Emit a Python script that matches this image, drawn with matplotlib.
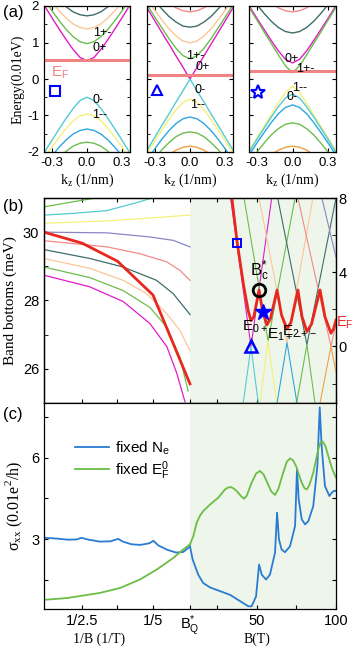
import numpy as np
import matplotlib
matplotlib.use("Agg")
import matplotlib.pyplot as plt
from matplotlib.ticker import MultipleLocator, FixedLocator, FixedFormatter, NullFormatter

plt.rcParams.update({
    "font.family": ["Liberation Sans", "DejaVu Sans"],
    "mathtext.fontset": "custom",
    "mathtext.rm": "Liberation Sans",
    "mathtext.it": "Liberation Sans:italic",
    "mathtext.sf": "Liberation Serif",
    "mathtext.default": "rm",
    "axes.unicode_minus": False,
    "xtick.direction": "in",
    "ytick.direction": "in",
    "axes.linewidth": 0.9,
})

MAG, GRN, PEA, SLT = "#e01cc4", "#6cbd4e", "#fcc698", "#3f6d6a"
SAL, PUR, YEL, CYN = "#f28a8a", "#8a86c6", "#f6f07a", "#55cbd3"
BLU, ORG, RED, EFC = "#2ca6df", "#f2a042", "#e8281e", "#f08484"
SHADE = "#eef6eb"

# ---------------- (a) dispersions, E(k) for k >= 0 (mirrored) ----------------
K_HALF = [0.0, 0.06, 0.12, 0.18, 0.24, 0.30, 0.38]

A1_BANDS = [
    [0.50, 0.59, 0.81, 1.08, 1.37, 1.67, 2.08],
    [0.97, 1.02, 1.16, 1.36, 1.60, 1.86, 2.24],
    [1.37, 1.41, 1.51, 1.67, 1.87, 2.10, 2.44],
    [1.73, 1.76, 1.84, 1.98, 2.15, 2.35, 2.65],
    [-0.50, -0.59, -0.81, -1.08, -1.37, -1.67, -2.08],
    [-0.96, -1.01, -1.15, -1.35, -1.60, -1.86, -2.24],
    [-1.37, -1.41, -1.51, -1.67, -1.87, -2.10, -2.44],
    [-1.73, -1.76, -1.84, -1.98, -2.15, -2.35, -2.65],
]
A1_COLORS = [MAG, GRN, PEA, SLT, CYN, YEL, BLU, GRN]
A1_EF = 0.52

A2_BANDS = [
    [1.84, 1.87, 1.95, 2.07, 2.24, 2.43, 2.73],
    [1.42, 1.45, 1.56, 1.71, 1.91, 2.13, 2.46],
    [0.99, 1.04, 1.18, 1.37, 1.61, 1.87, 2.24],
    [0.55, 0.64, 0.84, 1.10, 1.39, 1.68, 2.09],
    [0.00, 0.32, 0.63, 0.95, 1.26, 1.58, 2.00],
    [0.00, -0.32, -0.63, -0.95, -1.26, -1.58, -2.00],
    [-0.55, -0.64, -0.84, -1.10, -1.39, -1.68, -2.09],
    [-1.04, -1.09, -1.22, -1.41, -1.64, -1.90, -2.27],
    [-1.45, -1.48, -1.58, -1.74, -1.93, -2.15, -2.48],
    [-1.84, -1.87, -1.95, -2.07, -2.24, -2.43, -2.73],
]
A2_COLORS = [SAL, SLT, PEA, GRN, MAG, CYN, YEL, BLU, GRN, ORG]
A2_EF = 0.12

A3_BANDS = [
    [1.84, 1.87, 1.95, 2.07, 2.24, 2.43, 2.73],
    [1.26, 1.30, 1.41, 1.58, 1.79, 2.03, 2.38],
    [0.44, 0.54, 0.77, 1.05, 1.35, 1.65, 2.06],
    [0.17, 0.36, 0.66, 0.97, 1.28, 1.60, 2.02],
    [-0.19, -0.37, -0.66, -0.97, -1.29, -1.60, -2.02],
    [-0.41, -0.52, -0.76, -1.04, -1.34, -1.64, -2.06],
    [-0.71, -0.78, -0.95, -1.19, -1.46, -1.74, -2.14],
    [-1.20, -1.24, -1.36, -1.53, -1.75, -1.99, -2.34],
    [-1.84, -1.87, -1.95, -2.07, -2.24, -2.43, -2.73],
]
A3_COLORS = [SAL, SLT, MAG, GRN, YEL, CYN, BLU, GRN, ORG]
A3_EF = 0.22

# labels in (a): (k, E, text)
A1_LABELS = [(0.05, 1.25, "1+-"), (0.05, 0.86, "0+"), (0.05, -0.58, "0-"), (0.04, -0.99, "1--")]
A2_LABELS = [(-0.03, 0.62, "1+-"), (0.05, 0.33, "0+"), (0.04, -0.30, "0-"), (0.00, -0.72, "1--")]
A3_LABELS = [(-0.07, 0.55, "0+"), (0.03, 0.28, "1+-"), (0.00, -0.25, "1--"), (-0.05, -0.49, "0-")]
A_MARKS = [((-0.274, -0.32), "s"), ((-0.28, -0.30), "^"), ((-0.29, -0.35), "*")]

# ---------------- (b) band bottoms ----------------
# left part: x is 1/B (1/T), y in meV
BB_INV = [
    [0.507, 0.47],
    [0.507, 0.425, 0.326],
    [0.507, 0.425, 0.330, 0.237, 0.185],
    [0.507, 0.330, 0.200, 0.0958],
    [0.507, 0.330, 0.209, 0.143, 0.0958],
    [0.507, 0.330, 0.237, 0.161, 0.124, 0.0958],
    [0.507, 0.378, 0.284, 0.190, 0.143, 0.0958],
    [0.507, 0.378, 0.284, 0.218, 0.161, 0.124, 0.0958],
    [0.507, 0.378, 0.284, 0.209, 0.161, 0.124, 0.101],
    [0.507, 0.378, 0.284, 0.209, 0.161, 0.133, 0.110],
]
BB_MEV = [
    [30.97, 31.05],
    [30.74, 30.89, 31.06],
    [30.50, 30.55, 30.63, 30.89, 31.06],
    [30.26, 30.33, 30.42, 30.50],
    [30.00, 29.98, 29.86, 29.76, 29.57],
    [29.75, 29.57, 29.37, 29.13, 28.88, 28.59],
    [29.49, 29.23, 28.98, 28.59, 28.20, 27.59],
    [29.23, 28.94, 28.59, 28.20, 27.61, 27.12, 26.53],
    [28.98, 28.67, 28.29, 27.80, 27.22, 26.33, 25.35],
    [28.74, 28.40, 27.97, 27.33, 26.65, 25.87, 25.04],
]
BB_COLORS = [ORG, GRN, CYN, YEL, PUR, SAL, SLT, PEA, GRN, MAG]
EF_INV = [0.507, 0.40, 0.30, 0.20, 0.0958]
EF_MEV = [30.00, 29.68, 29.15, 28.16, 25.56]

# right part: x is B (T), y on right axis
FAN_B = [
    [33.3, 46.2, 59.3], [41.3, 46.2, 50.8],
    [41.8, 57.0, 74.1], [51.9, 57.0, 62.5],
    [51.3, 69.0, 85.4], [62.7, 69.0, 75.3],
    [63.1, 81.6, 100.0], [75.1, 81.6, 86.7],
    [75.9, 96.8, 100.0], [89.9, 96.8, 100.0],
    [91.1, 100.0],
]
FAN_E = [
    [8.0, 0.0, 8.0], [-3.05, 0.0, -3.05],
    [8.0, 0.3, 8.0], [-3.05, 0.3, -3.05],
    [8.0, 0.2, 8.0], [-3.05, 0.2, -3.05],
    [8.0, 0.1, 8.0], [-3.05, 0.1, -3.05],
    [8.0, 0.0, 1.2], [-3.05, 0.0, -1.4],
    [8.0, 4.8],
]
FAN_COLORS = [MAG, CYN, GRN, YEL, PEA, BLU, SLT, GRN, SAL, ORG, PUR]

EF_B = [33.4, 37.5, 41.5, 44.5, 46.2, 48.0, 51.3, 53.5, 56.3, 58.5, 62.7, 65.5, 69.0,
        71.5, 75.9, 78.5, 81.6, 84.5, 89.9, 93.0, 96.8, 98.5, 100.0]
EF_E = [8.5, 5.58, 3.3, 1.9, 1.39, 1.6, 3.04, 1.9, 1.16, 1.5, 3.04, 1.7, 0.94,
        1.3, 3.04, 1.6, 0.80, 1.2, 3.04, 1.6, 0.71, 0.95, 1.42]

B_SQUARE, B_CIRCLE, B_STAR, B_TRI = (37.5, 5.58), (51.3, 3.04), (53.6, 1.87), (46.2, 0.0)

# ---------------- (c) conductivity ----------------
NE_INV = [0.505, 0.47, 0.44, 0.415, 0.401, 0.385, 0.35, 0.32, 0.298, 0.285, 0.26, 0.235,
          0.21, 0.199, 0.185, 0.16, 0.135, 0.115, 0.0958]
NE_INV_S = [3.06, 3.03, 2.99, 3.00, 3.06, 3.00, 2.92, 2.93, 3.02, 2.92, 2.82, 2.80,
            2.86, 2.95, 2.78, 2.62, 2.52, 2.54, 2.74]
NE_B = [7.6, 9.3, 12.8, 16.0, 20.3, 32.9, 44.5, 46.6, 49.4, 51.3, 53.0, 55.7, 58.2, 61.4,
        62.7, 63.9, 65.6, 67.7, 70.9, 74.1, 75.3, 76.4, 78.3, 80.4, 82.5, 85.6, 88.2, 89.7,
        90.9, 93.0, 95.8, 97.3, 98.7, 100.0]
NE_B_S = [2.74, 2.26, 1.71, 1.40, 1.24, 0.97, 0.55, 0.55, 0.91, 2.08, 1.71, 1.53, 1.71, 2.51,
          3.98, 3.00, 2.63, 2.53, 2.75, 3.49, 5.57, 4.47, 3.74, 3.55, 3.67, 4.22, 5.69, 7.84,
          6.43, 4.96, 4.59, 4.71, 4.78, 4.78]
EF0_INV = [0.504, 0.443, 0.349, 0.293, 0.237, 0.190, 0.143, 0.115, 0.0958]
EF0_INV_S = [0.79, 0.85, 1.04, 1.22, 1.53, 1.89, 2.32, 2.63, 2.82]
EF0_B = [7.6, 9.7, 11.8, 14.0, 16.0, 20.3, 25.5, 29.7, 31.6, 33.4, 35.2, 37.2, 39.7, 41.8,
         43.5, 46.6, 49.5, 51.9, 54.2, 56.5, 59.0, 61.4, 63.5, 66.6, 68.9, 70.9, 72.8, 74.7,
         78.3, 80.0, 81.5, 83.2, 85.6, 88.8, 90.2, 91.6, 93.3, 95.1, 97.5, 100.0]
EF0_B_S = [2.82, 3.12, 3.61, 3.88, 4.04, 4.28, 4.53, 4.83, 4.90, 4.92, 4.87, 4.77, 4.60, 4.49,
           4.60, 5.08, 5.42, 5.51, 5.38, 5.08, 4.76, 4.63, 4.85, 5.45, 5.85, 5.97, 5.90, 5.69,
           5.08, 4.88, 4.83, 5.00, 5.45, 6.31, 6.55, 6.59, 6.42, 6.06, 5.60, 5.26]

# composite x axis for (b), (c): left half in 1/B, right half in B
INV_LEFT, INV_Q = 0.507, 0.0958
B_LO, B_HI = 7.6, 100.0


def xs_inv(inv):
    return 0.5 * (INV_LEFT - np.asarray(inv)) / (INV_LEFT - INV_Q)


def xs_b(b):
    return 0.5 + 0.5 * (np.asarray(b) - B_LO) / (B_HI - B_LO)


def mirror(vals):
    return list(vals[::-1]) + list(vals[1:])


K_FULL = [-k for k in K_HALF[::-1]] + K_HALF[1:]

W, H = 353, 648
fig = plt.figure(figsize=(W / 100, H / 100), dpi=100)


def box(x0, y0, x1, y1):
    return [x0 / W, 1 - y1 / H, (x1 - x0) / W, (y1 - y0) / H]


serif = ["Liberation Serif", "DejaVu Serif"]

# ---------- (a) ----------
panels = [(44, 130, A1_BANDS, A1_COLORS, A1_EF, A1_LABELS),
          (147, 233, A2_BANDS, A2_COLORS, A2_EF, A2_LABELS),
          (249, 336, A3_BANDS, A3_COLORS, A3_EF, A3_LABELS)]
for i, (x0, x1, bands, cols, ef, labels) in enumerate(panels):
    ax = fig.add_axes(box(x0, 6, x1, 152))
    for e, c in zip(bands, cols):
        ax.plot(K_FULL, mirror(e), color=c, lw=1.0)
    ax.axhline(ef, color=EFC, lw=2.2)
    for k, e, t in labels:
        ax.text(k, e, t, fontsize=9, ha="left", va="center")
    (mx, my), mk = A_MARKS[i]
    ax.plot(mx, my, marker=mk, ms=7 if mk != "*" else 10, mfc="none", mec="#0000ff", mew=1.5)
    ax.set_xlim(-0.37, 0.37)
    ax.set_ylim(-2, 2)
    ax.xaxis.set_major_locator(FixedLocator([-0.3, 0.0, 0.3]))
    ax.xaxis.set_major_formatter(FixedFormatter(["-0.3", "0.0", "0.3"]))
    ax.yaxis.set_major_locator(MultipleLocator(1))
    ax.yaxis.set_minor_locator(MultipleLocator(0.5))
    ax.tick_params(which="both", top=True, right=True, labelsize=9.5, length=3)
    ax.tick_params(which="minor", length=2)
    ax.set_xlabel("k$_{\\mathsf{z}}$ (1/nm)", family=serif, fontsize=10, labelpad=2)
    if i == 0:
        ax.set_ylabel("Energy(0.01eV)", family=serif, fontsize=10, labelpad=2)
        ax.text(-0.31, 0.16, "E$_{\\mathrm{F}}$", color=EFC, fontsize=11, va="center")
    else:
        ax.yaxis.set_major_formatter(NullFormatter())

# ---------- (b) ----------
xt = [float(xs_inv(0.4)), float(xs_inv(0.3)), float(xs_inv(0.2)), 0.5,
      float(xs_b(25)), float(xs_b(50)), float(xs_b(75)), 1.0]
xl = ["1/2.5", "", "1/5", "B$_{\\mathrm{Q}}^{*}$", "", "50", "", "100"]

axb = fig.add_axes(box(44, 198, 336, 403))
axb.axvspan(0.5, 1.0, color=SHADE, lw=0, zorder=0)
for inv, e, c in zip(BB_INV, BB_MEV, BB_COLORS):
    axb.plot(xs_inv(inv), e, color=c, lw=0.9)
axb.plot(xs_inv(EF_INV), EF_MEV, color=RED, lw=2.0)
axb.set_xlim(0, 1)
axb.set_ylim(25, 31)
axb.set_xticks(xt)
axb.xaxis.set_major_formatter(NullFormatter())
axb.yaxis.set_major_locator(FixedLocator([26, 28, 30]))
axb.yaxis.set_minor_locator(FixedLocator([27, 29, 31]))
axb.tick_params(which="both", top=True, labelsize=10.5, length=3)
axb.set_ylabel("Band bottoms (meV)", family=serif, fontsize=11, labelpad=4)

axb2 = axb.twinx()
for b, e, c in zip(FAN_B, FAN_E, FAN_COLORS):
    axb2.plot(xs_b(b), e, color=c, lw=0.8)
axb2.plot(xs_b(EF_B), EF_E, color=RED, lw=2.0)
axb2.plot(xs_b(B_SQUARE[0]), B_SQUARE[1], marker="s", ms=6, mfc="none", mec="#0000ff", mew=1.4)
axb2.plot(xs_b(B_TRI[0]), B_TRI[1], marker="^", ms=9, mfc="none", mec="#0000ff", mew=1.8)
axb2.plot(xs_b(B_CIRCLE[0]), B_CIRCLE[1], marker="o", ms=9, mfc="none", mec="black", mew=2.0)
axb2.plot(xs_b(B_STAR[0]), B_STAR[1], marker="*", ms=12, color="#0000ff")
axb2.text(xs_b(51.3), 4.1, "B$_{\\mathrm{c}}^{*}$", fontsize=12, ha="center", va="center")
axb2.text(xs_b(40.8), 1.06, "E$_{\\mathrm{0+}}$", fontsize=11, ha="left", va="center")
axb2.text(xs_b(56.3), 0.62, "E$_{\\mathrm{1+-}}$", fontsize=11, ha="left", va="center")
axb2.text(xs_b(65.8), 0.78, "E$_{\\mathrm{2+-}}$", fontsize=11, ha="left", va="center")
axb2.text(1.001, 1.26, "E$_{\\mathrm{F}}$", color=RED, fontsize=10.5, ha="left", va="center")
axb2.set_xlim(0, 1)
axb2.set_ylim(-3.05, 8)
axb2.yaxis.set_major_locator(FixedLocator([0, 4, 8]))
axb2.yaxis.set_minor_locator(FixedLocator([-2, 2, 6]))
axb2.tick_params(which="both", labelsize=10.5, length=3, pad=2)

# ---------- (c) ----------
axc = fig.add_axes(box(44, 403, 336, 609))
axc.axvspan(0.5, 1.0, color=SHADE, lw=0, zorder=0)
cb, cg = "#2a7bd2", "#6cbd45"
axc.plot(xs_inv(NE_INV), NE_INV_S, color=cb, lw=1.3, label="fixed N$_{\\mathrm{e}}$")
axc.plot(xs_b(NE_B), NE_B_S, color=cb, lw=1.3)
axc.plot(xs_inv(EF0_INV), EF0_INV_S, color=cg, lw=1.3, label="fixed E$_{\\mathrm{F}}^{\\mathrm{0}}$")
axc.plot(xs_b(EF0_B), EF0_B_S, color=cg, lw=1.3)
axc.set_xlim(0, 1)
axc.set_ylim(0.45, 8.0)
axc.set_xticks(xt)
axc.set_xticklabels(xl)
for lab in axc.get_xticklabels():
    if "Q" in lab.get_text():
        lab.set_fontsize(13)
axc.yaxis.set_major_locator(FixedLocator([1.5, 3, 4.5, 6, 7.5]))
axc.yaxis.set_major_formatter(FixedFormatter(["", "3", "", "6", ""]))
axc.tick_params(which="both", right=True, labelsize=10.5, length=3)
axc.set_ylabel("σ$_{\\mathsf{xx}}$ (0.01e$^{\\mathsf{2}}$/h)", family=serif, fontsize=11.5, labelpad=4)
axc.text(0.19, -0.148, "1/B (1/T)", family=serif, fontsize=10, ha="center", va="center",
         transform=axc.transAxes)
axc.text(0.729, -0.148, "B(T)", family=serif, fontsize=10, ha="center", va="center",
         transform=axc.transAxes)
axc.legend(loc="upper left", bbox_to_anchor=(0.08, 0.86), frameon=False, fontsize=11,
           handlelength=2.2, handletextpad=0.4, labelspacing=0.15, borderpad=0)

for t, y in [("(a)", 13), ("(b)", 206), ("(c)", 414)]:
    fig.text(3 / W, 1 - y / H, t, fontsize=12, va="center", ha="left")

fig.savefig("out.png", dpi=100)
